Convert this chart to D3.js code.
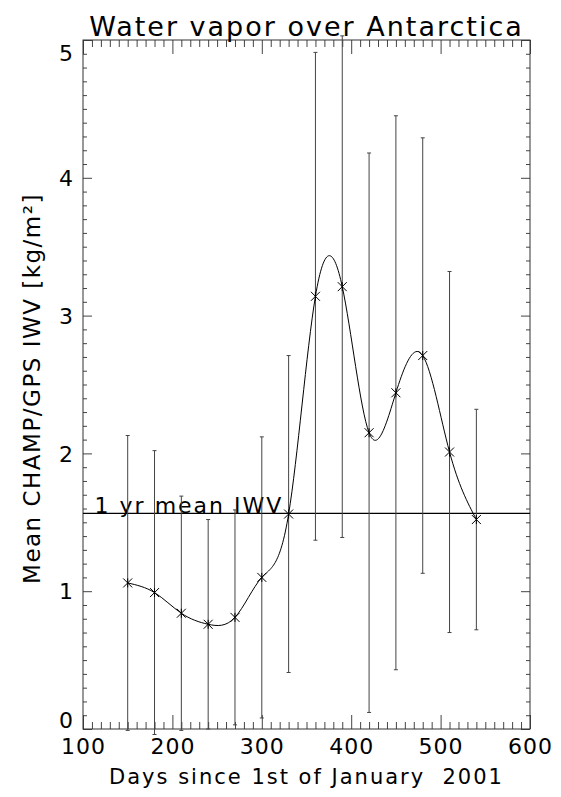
<!DOCTYPE html>
<html>
<head>
<meta charset="utf-8">
<script src="https://cdn.jsdelivr.net/npm/d3@7"></script>
<style>
  body { margin: 0; background: #fff; }
  svg text { font-family: "DejaVu Sans", sans-serif; fill: #000; white-space: pre; }
</style>
</head>
<body>
<div id="chart"></div>
<script>
// values
const days = [150, 180, 210, 240, 270, 300, 330, 360, 390, 420, 450, 480, 510, 540];
const iwv = [1.06, 0.99, 0.84, 0.76, 0.81, 1.10, 1.56, 3.14, 3.21, 2.15, 2.44, 2.71, 2.01, 1.52];
const sigma = [1.07, 1.03, 0.85, 0.76, 0.78, 1.02, 1.15, 1.77, 1.82, 2.03, 2.01, 1.58, 1.31, 0.80];
const meanIWV = 1.565;
const xTicks = [100, 200, 300, 400, 500, 600];
const yTicks = [0, 1, 2, 3, 4, 5];

const W = 561, H = 797;
const margin = { top: 40, right: 31, bottom: 68, left: 83 };
const width = W - margin.left - margin.right;
const height = H - margin.top - margin.bottom;

const svg = d3.select('#chart').append('svg')
    .attr('width', W)
    .attr('height', H);

const g = svg.append('g')
    .attr('transform', `translate(${margin.left},${margin.top})`);

const x = d3.scaleLinear().domain([100, 600]).range([0, width]);
const y = d3.scaleLinear().domain([0, 5]).range([height, 0]);

const xMinor = d3.range(100, 601, 10).filter(d => d % 100 !== 0);
const yMinor = d3.range(0, 50).map(d => d / 10).filter((d, i) => i % 10 !== 0);

// minor + major ticks on all four sides
function ticks(axis) {
    return gg => { gg.call(axis); gg.select('.domain').remove(); gg.selectAll('line').attr('stroke', '#444'); };
}
g.append('g').attr('transform', `translate(0,${height})`)
    .call(ticks(d3.axisBottom(x).tickValues(xMinor).tickSize(-7).tickFormat('')));
g.append('g')
    .call(ticks(d3.axisTop(x).tickValues(xMinor).tickSize(-7).tickFormat('')));
g.append('g')
    .call(ticks(d3.axisTop(x).tickValues(xTicks).tickSize(-14).tickFormat('')));
g.append('g')
    .call(ticks(d3.axisLeft(y).tickValues(yMinor).tickSize(-4).tickFormat('')));
g.append('g').attr('transform', `translate(${width},0)`)
    .call(ticks(d3.axisRight(y).tickValues(yMinor).tickSize(-4).tickFormat('')));
g.append('g').attr('transform', `translate(${width},0)`)
    .call(ticks(d3.axisRight(y).tickValues(yTicks).tickSize(-9).tickFormat('')));

const xAxis = g.append('g').attr('transform', `translate(0,${height})`)
    .call(ticks(d3.axisBottom(x).tickValues(xTicks).tickSize(-14).tickPadding(9).tickFormat(d3.format('d'))));
xAxis.selectAll('text').attr('font-size', 22).attr('fill', '#000').attr('letter-spacing', 1);

const yAxis = g.append('g')
    .call(ticks(d3.axisLeft(y).tickValues(yTicks).tickSize(-9).tickPadding(10).tickFormat(d3.format('d'))));
yAxis.selectAll('text').attr('font-size', 22).attr('fill', '#000')
    .attr('dy', d => d === 5 ? '0.95em' : d === 0 ? '-0.08em' : '0.35em');

g.append('rect')
    .attr('width', width).attr('height', height)
    .attr('fill', 'none').attr('stroke', '#333').attr('stroke-width', 1);

// mean line
g.append('line')
    .attr('x1', 0).attr('x2', width)
    .attr('y1', y(meanIWV)).attr('y2', y(meanIWV))
    .attr('stroke', '#000').attr('stroke-width', 1.3);
g.append('text')
    .attr('x', x(113)).attr('y', y(meanIWV))
    .attr('font-size', 22).attr('letter-spacing', 2)
    .text('1 yr mean IWV');

// error bars
const pts = days.map((d, i) => ({ d, v: iwv[i], s: sigma[i] }));
const bars = g.append('g').attr('stroke', '#444').attr('stroke-width', 1);
bars.selectAll('.eb').data(pts).enter().append('line')
    .attr('x1', p => x(p.d)).attr('x2', p => x(p.d))
    .attr('y1', p => y(p.v - p.s)).attr('y2', p => y(p.v + p.s));
bars.selectAll('.capT').data(pts).enter().append('line')
    .attr('x1', p => x(p.d) - 2).attr('x2', p => x(p.d) + 2)
    .attr('y1', p => y(p.v + p.s)).attr('y2', p => y(p.v + p.s));
bars.selectAll('.capB').data(pts).enter().append('line')
    .attr('x1', p => x(p.d) - 2).attr('x2', p => x(p.d) + 2)
    .attr('y1', p => y(p.v - p.s)).attr('y2', p => y(p.v - p.s));

// spline through the means
const line = d3.line().x(p => x(p.d)).y(p => y(p.v)).curve(d3.curveNatural);
g.append('path').datum(pts)
    .attr('d', line)
    .attr('fill', 'none').attr('stroke', '#000').attr('stroke-width', 1);

// asterisk markers
const r = 4.5;
const star = `M0,${-r}V${r}M${-r},${-r}L${r},${r}M${-r},${r}L${r},${-r}`;
g.append('g').selectAll('path').data(pts).enter().append('path')
    .attr('transform', p => `translate(${x(p.d)},${y(p.v)})`)
    .attr('d', star)
    .attr('stroke', '#000').attr('stroke-width', 1).attr('fill', 'none');

// titles
svg.append('text')
    .attr('x', margin.left + width / 2).attr('y', 36)
    .attr('text-anchor', 'middle').attr('font-size', 27).attr('letter-spacing', 2)
    .text('Water vapor over Antarctica');
svg.append('text')
    .attr('x', margin.left + width / 2).attr('y', 784)
    .attr('text-anchor', 'middle').attr('font-size', 21).attr('letter-spacing', 2)
    .text('Days since 1st of January  2001');
svg.append('text')
    .attr('transform', `translate(40,${margin.top + height / 2 + 4}) rotate(-90)`)
    .attr('text-anchor', 'middle').attr('font-size', 23).attr('letter-spacing', 1.5)
    .text('Mean CHAMP/GPS IWV [kg/m²]');
</script>
</body>
</html>
